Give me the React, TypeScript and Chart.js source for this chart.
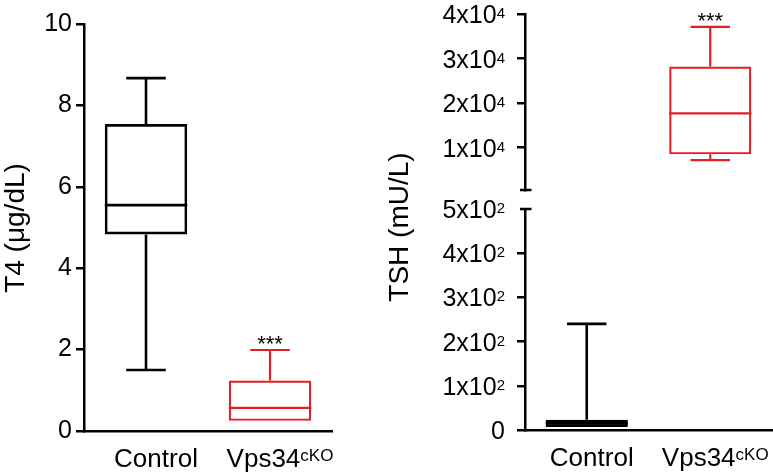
import React, { useEffect, useRef } from 'react';
import { Chart, registerables } from 'chart.js';

Chart.register(...registerables);

const FONT = '"Liberation Sans", Arial, Helvetica, sans-serif';

// ---- data ----
const categories = ['Control', 'Vps34'];
const categorySup = ['', 'cKO'];
const boxColors = ['#000000', '#e31e24'];
const boxLineWidths = [2.6, 2.2];
const significance = ['', '***'];

const t4Min = [1.5, 0.25];
const t4Q1 = [4.83, 0.25];
const t4Median = [5.55, 0.57];
const t4Q3 = [7.54, 1.24];
const t4Max = [8.67, 1.99];
const t4Ticks = [0, 2, 4, 6, 8, 10];

const tshMin = [7, 7200];
const tshQ1 = [7, 8500];
const tshMedian = [15, 17700];
const tshQ3 = [23, 28200];
const tshMax = [240, 37100];

const tshTopTicks = [10000, 20000, 30000, 40000];
const tshTopTickBase = ['1x10', '2x10', '3x10', '4x10'];
const tshTopTickExp = ['4', '4', '4', '4'];
const tshBottomTicks = [0, 100, 200, 300, 400, 500];
const tshBottomTickBase = ['0', '1x10', '2x10', '3x10', '4x10', '5x10'];
const tshBottomTickExp = ['', '2', '2', '2', '2', '2'];
const tshBreakLow = 500;
const tshTopMax = 40000;

type PanelOpts = {
  min: number[];
  q1: number[];
  median: number[];
  q3: number[];
  max: number[];
  yMin: number;
  yMax: number;
  tickValues: number[];
  tickBase?: string[];
  tickExp?: string[];
  nativeYLabels: boolean;
  showX: boolean;
  xLabelOffset?: number;
  yWidth: number;
  padding: { top: number; right: number; bottom: number; left: number };
  noTickAt?: number;
  breakCap?: 'top' | 'bottom';
  title?: { text: string; x: number; y: number };
};

function inRange(o: PanelOpts, i: number) {
  return !(o.max[i] < o.yMin || o.min[i] > o.yMax);
}

function makePlugin(o: PanelOpts) {
  return {
    id: 'boxdeco',
    afterDatasetsDraw(chart: any) {
      const ctx = chart.ctx as CanvasRenderingContext2D;
      const ys = chart.scales.y;
      const meta = chart.getDatasetMeta(0);
      const area = chart.chartArea;
      ctx.save();
      ctx.beginPath();
      ctx.rect(area.left, area.top, area.right - area.left, area.bottom - area.top);
      ctx.clip();
      ctx.lineCap = 'butt';
      categories.forEach((_, i) => {
        if (!inRange(o, i)) return;
        const el = meta.data[i];
        const xc = el.x;
        const hw = el.width / 2;
        const cap = hw * 0.48;
        ctx.strokeStyle = boxColors[i];
        ctx.lineWidth = boxLineWidths[i];
        const yq1 = ys.getPixelForValue(o.q1[i]);
        const yq3 = ys.getPixelForValue(o.q3[i]);
        const ymin = ys.getPixelForValue(o.min[i]);
        const ymax = ys.getPixelForValue(o.max[i]);
        const ymed = ys.getPixelForValue(o.median[i]);
        ctx.beginPath();
        ctx.moveTo(xc, yq3);
        ctx.lineTo(xc, ymax);
        ctx.moveTo(xc - cap, ymax);
        ctx.lineTo(xc + cap, ymax);
        if (o.min[i] < o.q1[i]) {
          ctx.moveTo(xc, yq1);
          ctx.lineTo(xc, ymin);
          ctx.moveTo(xc - cap, ymin);
          ctx.lineTo(xc + cap, ymin);
        }
        ctx.moveTo(xc - hw, ymed);
        ctx.lineTo(xc + hw, ymed);
        ctx.stroke();
      });
      ctx.restore();
      // significance stars
      ctx.save();
      ctx.fillStyle = '#000';
      ctx.font = `22px ${FONT}`;
      ctx.textAlign = 'center';
      ctx.textBaseline = 'alphabetic';
      categories.forEach((_, i) => {
        if (!significance[i]) return;
        const v = o.max[i];
        if (v < ys.min || v > ys.max) return;
        const el = meta.data[i];
        ctx.fillText(significance[i], el.x, ys.getPixelForValue(v) + 1);
      });
      ctx.restore();
    },
    afterDraw(chart: any) {
      const ctx = chart.ctx as CanvasRenderingContext2D;
      const ys = chart.scales.y;
      const xs = chart.scales.x;
      const area = chart.chartArea;
      ctx.save();
      ctx.fillStyle = '#000';
      // custom y labels with superscripts
      if (o.tickBase) {
        const right = area.left - 20;
        o.tickValues.forEach((v, i) => {
          const y = ys.getPixelForValue(v);
          const base = o.tickBase![i];
          const exp = o.tickExp ? o.tickExp[i] : '';
          ctx.textAlign = 'right';
          ctx.textBaseline = 'alphabetic';
          ctx.font = `15px ${FONT}`;
          const ew = exp ? ctx.measureText(exp).width : 0;
          if (exp) ctx.fillText(exp, right, y + 9 - 5);
          ctx.font = `25px ${FONT}`;
          ctx.fillText(base, right - ew, y + 9);
        });
      }
      // x labels
      if (o.showX) {
        const base = area.bottom + 36;
        categories.forEach((lab, i) => {
          const xc = xs.getPixelForValue(i) + (o.xLabelOffset || 0);
          ctx.textBaseline = 'alphabetic';
          ctx.textAlign = 'left';
          ctx.font = `26px ${FONT}`;
          const mw = ctx.measureText(lab).width;
          const sup = categorySup[i];
          ctx.font = `17px ${FONT}`;
          const sw = sup ? ctx.measureText(sup).width : 0;
          const x0 = xc - (mw + sw) / 2;
          ctx.font = `26px ${FONT}`;
          ctx.fillText(lab, x0, base);
          if (sup) {
            ctx.font = `17px ${FONT}`;
            ctx.fillText(sup, x0 + mw, base - 6);
          }
        });
      }
      // axis title
      if (o.title) {
        ctx.save();
        ctx.translate(o.title.x, o.title.y);
        ctx.rotate(-Math.PI / 2);
        ctx.textAlign = 'center';
        ctx.textBaseline = 'middle';
        ctx.font = `28px ${FONT}`;
        ctx.fillText(o.title.text, 0, 0);
        ctx.restore();
      }
      // break caps
      if (o.breakCap) {
        const y = o.breakCap === 'bottom' ? area.bottom : area.top;
        ctx.strokeStyle = '#000';
        ctx.lineWidth = 2.5;
        ctx.beginPath();
        ctx.moveTo(area.left - 5, y);
        ctx.lineTo(area.left + 6.5, y);
        ctx.stroke();
      }
      ctx.restore();
    },
  };
}

function makeConfig(o: PanelOpts): any {
  return {
    type: 'bar',
    data: {
      labels: categories,
      datasets: [
        {
          data: categories.map((_, i) => (inRange(o, i) ? [o.q1[i], o.q3[i]] : null)),
          backgroundColor: 'rgba(0,0,0,0)',
          borderColor: boxColors,
          borderWidth: boxLineWidths,
          borderSkipped: false,
          barPercentage: 0.665,
          categoryPercentage: 1,
          clip: 0,
        },
      ],
    },
    options: {
      responsive: false,
      animation: false,
      events: [],
      layout: { padding: o.padding },
      plugins: { legend: { display: false }, tooltip: { enabled: false } },
      scales: {
        x: {
          display: o.showX,
          offset: true,
          grid: { display: false },
          ticks: { display: false },
          border: { display: true, color: '#000', width: 2.5 },
          afterFit: (s: any) => {
            s.height = 0;
          },
        },
        y: {
          min: o.yMin,
          max: o.yMax,
          afterBuildTicks: (s: any) => {
            s.ticks = o.tickValues.map((v) => ({ value: v }));
          },
          afterFit: (s: any) => {
            s.width = o.yWidth;
          },
          grid: {
            display: true,
            drawOnChartArea: false,
            drawTicks: true,
            tickLength: 8,
            lineWidth: 2.5,
            color: (c: any) =>
              o.noTickAt !== undefined && c.tick && c.tick.value === o.noTickAt ? 'rgba(0,0,0,0)' : '#000',
          },
          border: { display: true, color: '#000', width: 2.5 },
          ticks: {
            display: o.nativeYLabels,
            color: '#000',
            padding: 4,
            font: { family: FONT, size: 25 },
          },
        },
      },
    },
    plugins: [makePlugin(o)],
  };
}

export default function App() {
  const leftRef = useRef<HTMLCanvasElement>(null);
  const topRef = useRef<HTMLCanvasElement>(null);
  const botRef = useRef<HTMLCanvasElement>(null);

  useEffect(() => {
    const charts: Chart[] = [];
    charts.push(
      new Chart(
        leftRef.current!,
        makeConfig({
          min: t4Min,
          q1: t4Q1,
          median: t4Median,
          q3: t4Q3,
          max: t4Max,
          yMin: 0,
          yMax: 10,
          tickValues: t4Ticks,
          nativeYLabels: true,
          showX: true,
          xLabelOffset: 10,
          yWidth: 84,
          padding: { top: 24, right: 13, bottom: 43, left: 0 },
          title: { text: 'T4 (μg/dL)', x: 16, y: 228 },
        })
      )
    );
    charts.push(
      new Chart(
        topRef.current!,
        makeConfig({
          min: tshMin,
          q1: tshQ1,
          median: tshMedian,
          q3: tshQ3,
          max: tshMax,
          yMin: tshBreakLow,
          yMax: tshTopMax,
          tickValues: tshTopTicks,
          tickBase: tshTopTickBase,
          tickExp: tshTopTickExp,
          nativeYLabels: false,
          showX: false,
          yWidth: 145,
          padding: { top: 14, right: 1, bottom: 284, left: 0 },
          breakCap: 'bottom',
        })
      )
    );
    charts.push(
      new Chart(
        botRef.current!,
        makeConfig({
          min: tshMin,
          q1: tshQ1,
          median: tshMedian,
          q3: tshQ3,
          max: tshMax,
          yMin: 0,
          yMax: tshBreakLow,
          tickValues: tshBottomTicks,
          tickBase: tshBottomTickBase,
          tickExp: tshBottomTickExp,
          nativeYLabels: false,
          showX: true,
          xLabelOffset: 5,
          yWidth: 145,
          padding: { top: 209, right: 1, bottom: 44, left: 0 },
          noTickAt: tshBreakLow,
          breakCap: 'top',
          title: { text: 'TSH (mU/L)', x: 20.5, y: 227 },
        })
      )
    );
    return () => charts.forEach((c) => c.destroy());
  }, []);

  return (
    <div style={{ position: 'fixed', left: 0, top: 0, width: 773, height: 474, background: '#fff' }}>
      <canvas ref={leftRef} width={345} height={474} style={{ position: 'absolute', left: 0, top: 0 }} />
      <canvas ref={topRef} width={393} height={474} style={{ position: 'absolute', left: 380, top: 0 }} />
      <canvas ref={botRef} width={393} height={474} style={{ position: 'absolute', left: 380, top: 0 }} />
    </div>
  );
}
